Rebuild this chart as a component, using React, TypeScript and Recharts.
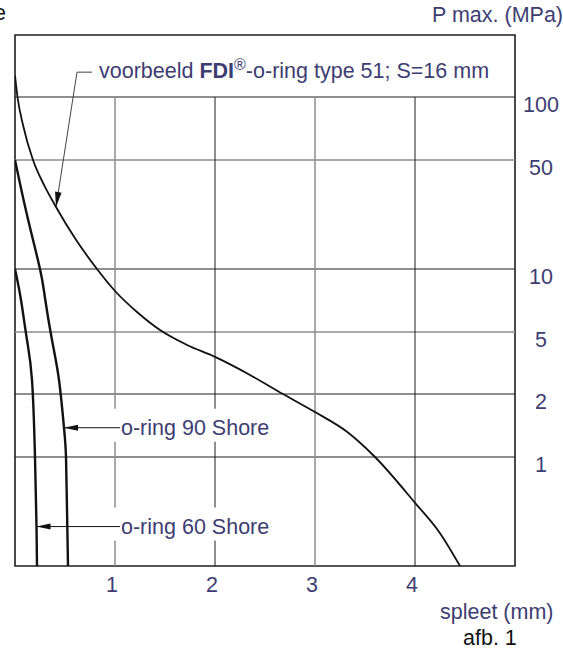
import React from "react";
import { LineChart, Line, XAxis, YAxis, ReferenceLine, ReferenceArea } from "recharts";

// spleet (mm) against P max. (MPa)
const fdiX = [0, 0.025, 0.08, 0.18, 0.29, 0.41, 0.61, 0.82, 1.0, 1.22, 1.45, 1.72, 2.0, 2.35, 2.68, 3.0, 3.32, 3.6, 4.0, 4.25, 4.45];
const fdiP = [127, 100, 73.5, 50, 34.6, 25.0, 15.4, 10, 7.85, 6.23, 5.11, 4.13, 3.46, 2.65, 2.0, 1.64, 1.32, 1.0, 0.38, 0.2, 0.1];

const shore90X = [0, 0.12, 0.25, 0.3, 0.37, 0.44, 0.49, 0.51, 0.52, 0.53];
const shore90P = [50, 22.2, 10, 7.27, 4.44, 2.46, 1.38, 1.0, 0.33, 0.1];

const shore60X = [0, 0.06, 0.12, 0.17, 0.2, 0.215, 0.22];
const shore60P = [10, 7.11, 4.44, 2.46, 1.0, 0.23, 0.1];

const xTicks = [1, 2, 3, 4];
const yTicks = [100, 50, 10, 5, 2, 1];

// the P axis of the drawing is not a clean log scale, every interval has its own height
const scaleP = [0.1, 1, 2, 5, 10, 50, 100, 200];
const scaleH = [0, 109, 172, 234, 297, 406, 469, 531];

const warp = (p: number) => {
  let i = 0;
  while (i < scaleP.length - 2 && p > scaleP[i + 1]) i++;
  const t = Math.log(p / scaleP[i]) / Math.log(scaleP[i + 1] / scaleP[i]);
  return scaleH[i] + (scaleH[i + 1] - scaleH[i]) * t;
};

const toRows = (xs: number[], ps: number[]) => xs.map((x, i) => ({ x, y: warp(ps[i]) }));

const fdiData = toRows(fdiX, fdiP);
const shore90Data = toRows(shore90X, shore90P);
const shore60Data = toRows(shore60X, shore60P);

const font = "'Liberation Sans', Arial, sans-serif";
const fs = 21.5;
const navy = "#3d3d72";
const dark = "#1e1e1e";
const gray = "#8c8c8c";

const arrowHead = (x1: number, y1: number, x2: number, y2: number, len: number, half: number) => {
  const d = Math.hypot(x2 - x1, y2 - y1);
  const ux = (x2 - x1) / d;
  const uy = (y2 - y1) / d;
  const bx = x2 - ux * len;
  const by = y2 - uy * len;
  return `${x2},${y2} ${bx - uy * half},${by + ux * half} ${bx + uy * half},${by - ux * half}`;
};

const shoreLabel = (text: string) => (p: any) => (
  <g>
    <rect x={p.x1 - 8} y={p.y1 - 19} width={163} height={33} fill="#fff" />
    <line x1={p.x1} y1={p.y1} x2={p.x2} y2={p.y2} stroke="#111" strokeWidth={1} />
    <polygon points={arrowHead(p.x1, p.y1, p.x2, p.y2, 14, 3)} fill="#111" />
    <text x={p.x1 + 1} y={p.y1 + 7} fill={navy} fontSize={fs} fontFamily={font}>
      {text}
    </text>
  </g>
);

const fdiLabel = (p: any) => (
  <g>
    <line x1={p.x1} y1={p.y1} x2={p.x1 + 15} y2={p.y1} stroke="#444" strokeWidth={1} />
    <line x1={p.x1} y1={p.y1} x2={p.x2} y2={p.y2} stroke="#444" strokeWidth={1} />
    <polygon points={arrowHead(p.x1, p.y1, p.x2, p.y2, 15, 3.3)} fill="#111" />
    <text x={p.x1 + 22} y={p.y1 + 6} fill={navy} fontSize={fs} fontFamily={font}>
      voorbeeld{" "}
      <tspan fontWeight={700}>FDI</tspan>
      <tspan dy={-8} fontSize={16}>®</tspan>
      <tspan dy={8}>-o-ring type 51; S=16 mm</tspan>
    </text>
  </g>
);

const renderXTick = (p: any) => (
  <text x={p.x - 3} y={p.y + 26} textAnchor="middle" fill={navy} fontSize={fs} fontFamily={font}>
    {p.payload.value}
  </text>
);

const renderYTick = (p: any) => {
  const label = yTicks.find((t) => Math.abs(warp(t) - p.payload.value) < 0.5);
  return (
    <text x={p.x + 26} y={p.y + 15} textAnchor="middle" fill={navy} fontSize={fs} fontFamily={font}>
      {label}
    </text>
  );
};

export default function App() {
  return (
    <div style={{ position: "absolute", left: 0, top: 0, width: 563, height: 650, background: "#fff", overflow: "hidden" }}>
      <LineChart width={563} height={650} margin={{ top: 35, right: 0, bottom: 54, left: 15 }}>
        <XAxis
          dataKey="x"
          type="number"
          domain={[0, 5]}
          ticks={xTicks}
          interval={0}
          height={30}
          axisLine={false}
          tickLine={false}
          tickSize={0}
          tickMargin={0}
          tick={renderXTick}
          allowDataOverflow
        />
        <YAxis
          orientation="right"
          type="number"
          domain={[0, 531]}
          ticks={yTicks.map(warp)}
          interval={0}
          width={48}
          axisLine={false}
          tickLine={false}
          tickSize={0}
          tickMargin={0}
          tick={renderYTick}
          allowDataOverflow
        />
        {yTicks.map((t) => (
          <ReferenceLine
            key={"h" + t}
            y={warp(t)}
            stroke={t === 50 || t === 5 ? gray : dark}
            strokeWidth={t === 50 || t === 5 ? 1.5 : 1}
          />
        ))}
        {xTicks.map((t) => (
          <ReferenceLine
            key={"v" + t}
            segment={[{ x: t, y: 0 }, { x: t, y: warp(100) }]}
            stroke={t % 2 === 1 ? gray : dark}
            strokeWidth={t % 2 === 1 ? 1.5 : 1}
          />
        ))}
        <ReferenceArea x1={0} x2={5} y1={0} y2={531} fill="none" stroke={dark} strokeWidth={1.6} />
        <ReferenceLine
          segment={[{ x: 0.62, y: warp(132) }, { x: fdiX[5], y: warp(fdiP[5]) }]}
          shape={fdiLabel}
        />
        <ReferenceLine
          segment={[{ x: 1.05, y: warp(shore90P[6]) }, { x: shore90X[6], y: warp(shore90P[6]) }]}
          shape={shoreLabel("o-ring 90 Shore")}
        />
        <ReferenceLine
          segment={[{ x: 1.05, y: warp(shore60P[5]) }, { x: shore60X[5], y: warp(shore60P[5]) }]}
          shape={shoreLabel("o-ring 60 Shore")}
        />
        <Line data={fdiData} dataKey="y" type="monotone" stroke="#111" strokeWidth={1.8} dot={false} isAnimationActive={false} />
        <Line data={shore90Data} dataKey="y" type="natural" stroke="#111" strokeWidth={2.4} dot={false} isAnimationActive={false} />
        <Line data={shore60Data} dataKey="y" type="natural" stroke="#111" strokeWidth={2.4} dot={false} isAnimationActive={false} />
      </LineChart>
      <svg width={563} height={650} style={{ position: "absolute", left: 0, top: 0, pointerEvents: "none" }}>
        <text x={-6} y={20} fill="#111" fontSize={fs} fontFamily={font}>e</text>
        <text x={563} y={22} textAnchor="end" fill={navy} fontSize={fs} fontFamily={font}>P max. (MPa)</text>
        <text x={440} y={619} fill={navy} fontSize={fs} fontFamily={font}>spleet (mm)</text>
        <text x={463} y={645} fill="#111" fontSize={fs} fontFamily={font}>afb. 1</text>
      </svg>
    </div>
  );
}
